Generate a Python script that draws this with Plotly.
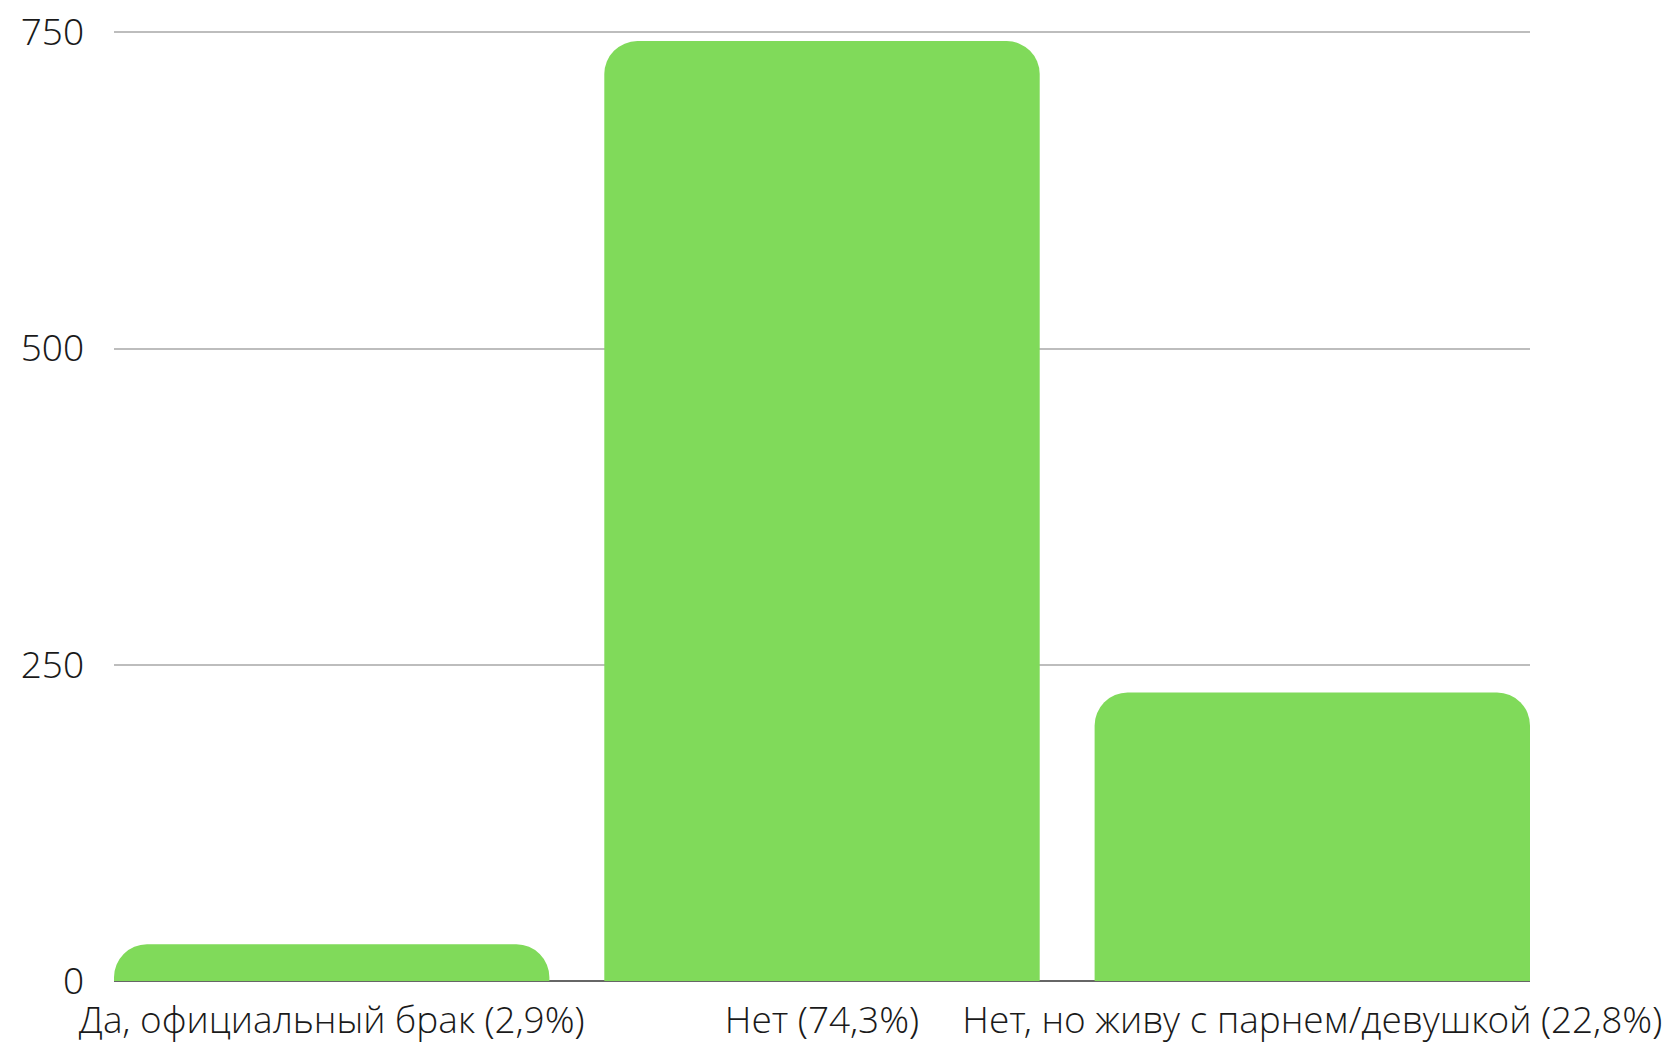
import plotly.graph_objects as go

categories = ["Да, официальный брак (2,9%)", "Нет (74,3%)", "Нет, но живу с парнем/девушкой (22,8%)"]
values = [29, 743, 228]
y_ticks = [0, 250, 500, 750]

fig = go.Figure(go.Bar(
    x=list(range(len(categories))),
    y=values,
    width=0.888,
    marker=dict(color="#80DA5A", cornerradius=33, line=dict(width=0)),
    hoverinfo="skip",
))

fig.update_layout(
    width=1675, height=1046,
    margin=dict(l=114, r=145, t=31, b=65),
    paper_bgcolor="white", plot_bgcolor="white",
    font=dict(family="Open Sans Light, Open Sans", size=37, color="#1a1a1a", weight=300),
    showlegend=False,
)
fig.update_xaxes(
    range=[-0.444, 2.444],
    tickmode="array",
    tickvals=list(range(len(categories))),
    ticktext=categories,
    showgrid=False, zeroline=False,
    showline=False, ticks="", ticklabelstandoff=14, automargin=False,
)
fig.update_yaxes(
    range=[0, 751],
    tickmode="array", tickvals=y_ticks, ticktext=[str(v) for v in y_ticks],
    showgrid=True, gridcolor="#BDBDBD", gridwidth=2,
    zeroline=True, zerolinecolor="#666666", zerolinewidth=2,
    showline=False, ticks="", ticklabelstandoff=29, automargin=False,
)
fig.write_html("out.html", config={"displayModeBar": False},
               post_script="document.body.style.margin='0';")
